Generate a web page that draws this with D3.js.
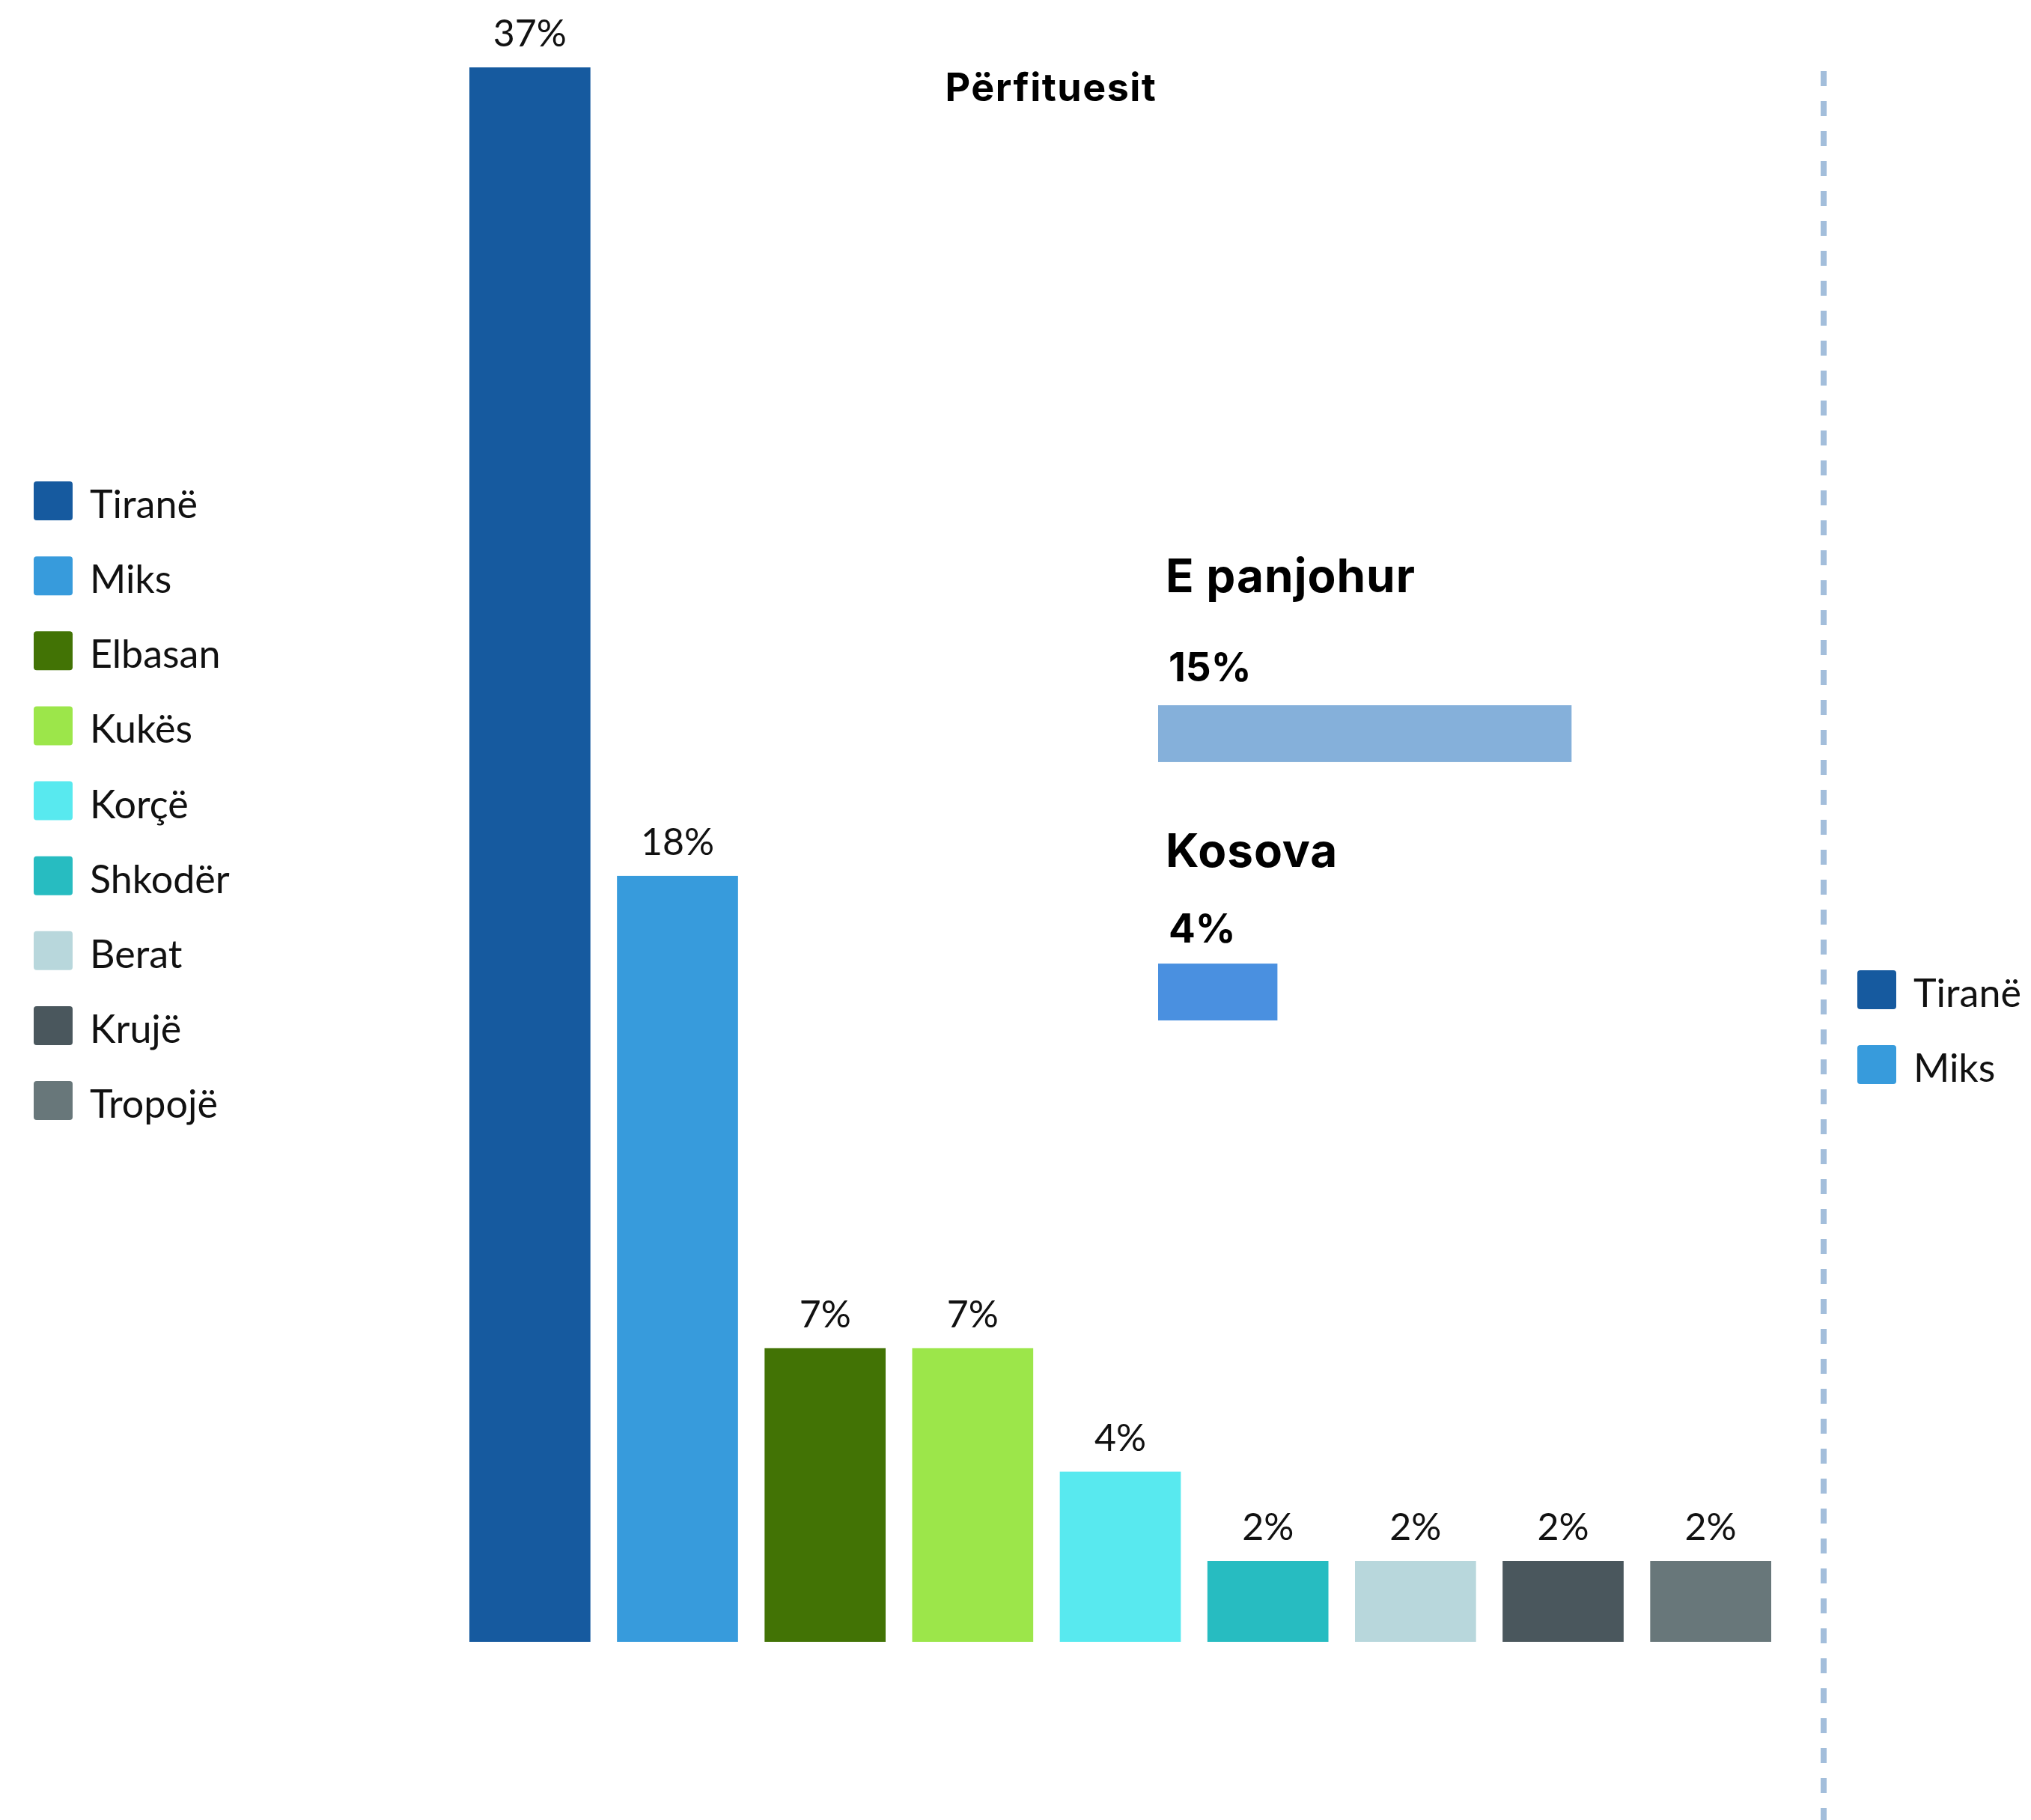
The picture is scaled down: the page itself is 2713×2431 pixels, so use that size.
<!DOCTYPE html>
<html>
<head>
<meta charset="utf-8">
<script src="https://cdn.jsdelivr.net/npm/d3@7"></script>
<style>
  body { margin: 0; background: #fff; }
  svg { display: block; }
</style>
</head>
<body>
<div id="chart"></div>
<script>
// ---------------- DATA ----------------
const cities = ["Tiranë","Miks","Elbasan","Kukës","Korçë","Shkodër","Berat","Krujë","Tropojë"];
const shares = [37, 18, 6.9, 6.9, 4, 1.9, 1.9, 1.9, 1.9];
const cityColors = ["#165a9f","#379bdc","#427305","#9ce64a","#58e9ef","#27bcc1","#b8d7dc","#4a575d","#68777a"];

const sideGroups = ["E panjohur","Kosova"];
const sideShares = [14.9, 4.3];
const sideColors = ["#85b0da","#4a90e0"];

const rightLegend = ["Tiranë","Miks"];

const title = "Përfituesit";

// ---------------- SETUP ----------------
const width = 2713, height = 2431;
const svg = d3.select("#chart").append("svg")
  .attr("width", width)
  .attr("height", height)
  .attr("viewBox", `0 0 ${width} ${height}`);

const color = d3.scaleOrdinal().domain(cities).range(cityColors);
const pct = v => Math.round(v) + "%";

// ---------------- MAIN BARS ----------------
const x = d3.scaleBand().domain(cities).range([627, 2366]).paddingInner(0.18).paddingOuter(0);
const y = d3.scaleLinear().domain([0, 37]).range([2193, 90]);
const data = cities.map((c, i) => ({city: c, v: shares[i]}));

svg.selectAll(".bar")
  .data(data)
  .enter().append("rect")
  .attr("class", "bar")
  .attr("x", d => x(d.city))
  .attr("y", d => y(d.v))
  .attr("width", x.bandwidth())
  .attr("height", d => y(0) - y(d.v))
  .attr("fill", d => color(d.city));

svg.selectAll(".bar-label")
  .data(data)
  .enter().append("text")
  .attr("class", "bar-label")
  .attr("x", d => x(d.city) + x.bandwidth() / 2)
  .attr("y", d => y(d.v) - 28)
  .attr("text-anchor", "middle")
  .style("font-family", "Lato, sans-serif")
  .style("font-size", "50px")
  .style("fill", "#111")
  .text(d => pct(d.v));

svg.append("text")
  .attr("x", 1404)
  .attr("y", 135)
  .attr("text-anchor", "middle")
  .style("font-family", "Inter, sans-serif")
  .style("font-weight", "bold")
  .style("font-size", "52px")
  .style("letter-spacing", "1.5px")
  .style("fill", "#000")
  .text(title);

// ---------------- LEFT LEGEND ----------------
const legendY = d3.scalePoint().domain(cities).range([643, 1444]);
const leftLegend = svg.append("g");
cities.forEach(c => {
  leftLegend.append("rect")
    .attr("x", 45).attr("y", legendY(c))
    .attr("width", 52).attr("height", 52)
    .attr("rx", 4)
    .attr("fill", color(c));
  leftLegend.append("text")
    .attr("x", 120).attr("y", legendY(c) + 49)
    .style("font-family", "Lato, sans-serif")
    .style("font-size", "52px")
    .style("fill", "#111")
    .text(c);
});

// ---------------- SIDE PANEL ----------------
const sx = d3.scaleLinear().domain([0, 15]).range([1547, 2103]);
const sy = d3.scaleBand().domain(sideGroups).range([942, 1363]).paddingInner(0.78);
const headY = d3.scalePoint().domain(sideGroups).range([791, 1158]);
const valY = d3.scalePoint().domain(sideGroups).range([910, 1259]);
const side = svg.append("g");
sideGroups.forEach((g, i) => {
  side.append("text")
    .attr("x", 1557).attr("y", headY(g))
    .style("font-family", "Inter, sans-serif")
    .style("font-weight", "bold")
    .style("font-size", "62px")
    .style("letter-spacing", "1px")
    .style("fill", "#000")
    .text(g);
  side.append("text")
    .attr("x", 1561).attr("y", valY(g))
    .style("font-family", "Inter, sans-serif")
    .style("font-weight", "bold")
    .style("font-size", "53px")
    .style("fill", "#000")
    .text(pct(sideShares[i]));
  side.append("rect")
    .attr("x", sx(0)).attr("y", sy(g))
    .attr("width", sx(sideShares[i]) - sx(0))
    .attr("height", sy.bandwidth())
    .attr("fill", sideColors[i]);
});

// ---------------- DIVIDER ----------------
svg.append("line")
  .attr("x1", 2436).attr("x2", 2436)
  .attr("y1", 95).attr("y2", height)
  .attr("stroke", "#a3bedb")
  .attr("stroke-width", 8)
  .attr("stroke-dasharray", "20,20");

// ---------------- RIGHT LEGEND ----------------
const rightY = d3.scalePoint().domain(rightLegend).range([1296, 1396]);
const rl = svg.append("g");
rightLegend.forEach(c => {
  rl.append("rect")
    .attr("x", 2481).attr("y", rightY(c))
    .attr("width", 52).attr("height", 52)
    .attr("rx", 4)
    .attr("fill", color(c));
  rl.append("text")
    .attr("x", 2556).attr("y", rightY(c) + 49)
    .style("font-family", "Lato, sans-serif")
    .style("font-size", "52px")
    .style("fill", "#111")
    .text(c);
});
</script>
</body>
</html>
